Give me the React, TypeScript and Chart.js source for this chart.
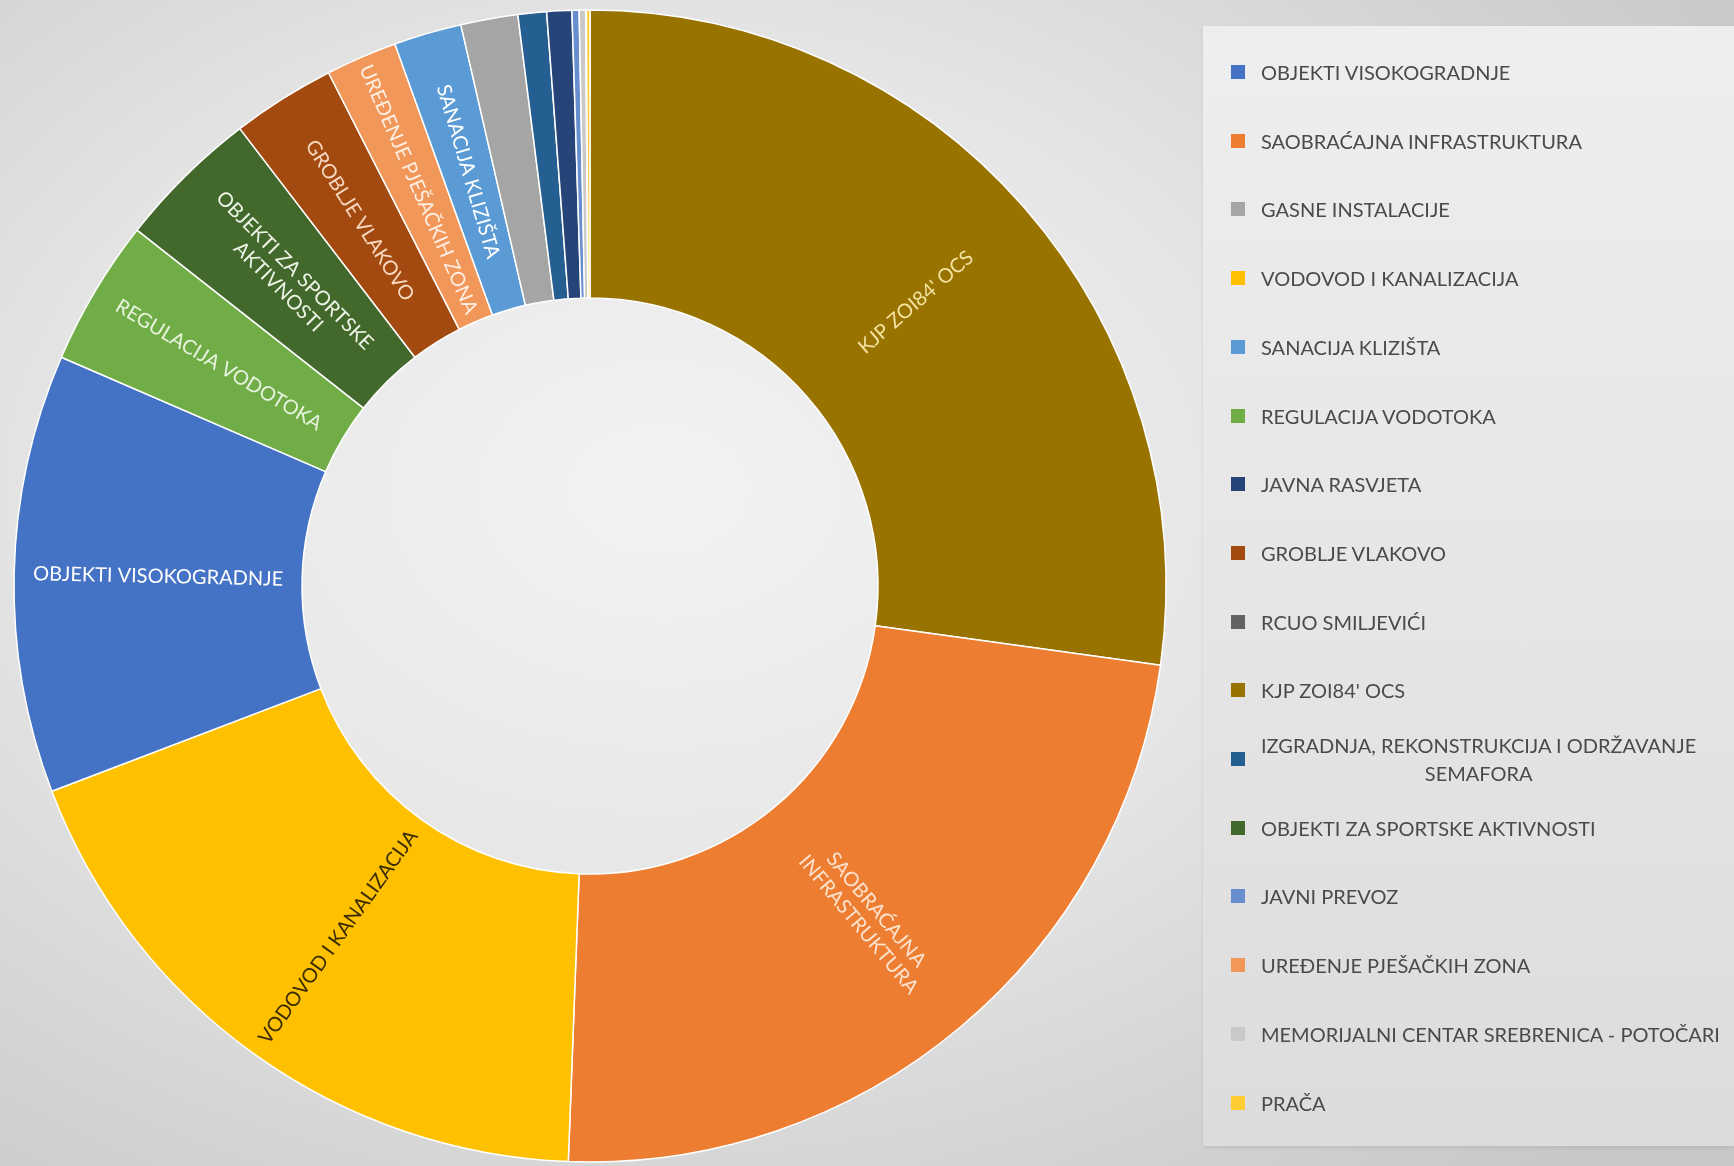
import React, { useEffect, useRef } from "react";
import { Chart, registerables } from "chart.js";

Chart.register(...registerables);

// Slices in the order they are drawn (clockwise from 12 o'clock)
const categories: string[] = [
  "KJP ZOI84' OCS",
  "SAOBRAĆAJNA INFRASTRUKTURA",
  "VODOVOD I KANALIZACIJA",
  "OBJEKTI VISOKOGRADNJE",
  "REGULACIJA VODOTOKA",
  "OBJEKTI ZA SPORTSKE AKTIVNOSTI",
  "GROBLJE VLAKOVO",
  "UREĐENJE PJEŠAČKIH ZONA",
  "SANACIJA KLIZIŠTA",
  "GASNE INSTALACIJE",
  "IZGRADNJA, REKONSTRUKCIJA I ODRŽAVANJE SEMAFORA",
  "JAVNA RASVJETA",
  "JAVNI PREVOZ",
  "MEMORIJALNI CENTAR SREBRENICA - POTOČARI",
  "RCUO SMILJEVIĆI",
  "PRAČA",
];

// Share of each slice (percent)
const shares: number[] = [27.2, 23.4, 18.6, 12.3, 4.1, 4.0, 2.9, 2.0, 1.9, 1.6, 0.8, 0.7, 0.2, 0.18, 0.02, 0.1];

const sliceColors: string[] = [
  "#997300", "#ED7D31", "#FFC000", "#4472C4", "#70AD47", "#43682B", "#A24A0F", "#F1975A",
  "#5B9BD5", "#A5A5A5", "#255E91", "#264478", "#698ED0", "#C9C9C9", "#636363", "#FFCD33",
];

// Text written inside the slices
const sliceLabels: string[][] = [
  ["KJP ZOI84' OCS"],
  ["SAOBRAĆAJNA", "INFRASTRUKTURA"],
  ["VODOVOD I KANALIZACIJA"],
  ["OBJEKTI VISOKOGRADNJE"],
  ["REGULACIJA VODOTOKA"],
  ["OBJEKTI ZA SPORTSKE", "AKTIVNOSTI"],
  ["GROBLJE VLAKOVO"],
  ["UREĐENJE PJEŠAČKIH ZONA"],
  ["SANACIJA KLIZIŠTA"],
  [], [], [], [], [], [], [],
];

const sliceLabelColors: string[] = [
  "#F3E3A0", "#FDE3CF", "#3A2C00", "#FFFFFF", "#E8F3DE", "#EEF5E8", "#F9D9C2", "#FFEFE3",
  "#FFFFFF", "#FFFFFF", "#FFFFFF", "#FFFFFF", "#FFFFFF", "#FFFFFF", "#FFFFFF", "#FFFFFF",
];

// Legend order (as in the source table)
const legendCategories: string[] = [
  "OBJEKTI VISOKOGRADNJE",
  "SAOBRAĆAJNA INFRASTRUKTURA",
  "GASNE INSTALACIJE",
  "VODOVOD I KANALIZACIJA",
  "SANACIJA KLIZIŠTA",
  "REGULACIJA VODOTOKA",
  "JAVNA RASVJETA",
  "GROBLJE VLAKOVO",
  "RCUO SMILJEVIĆI",
  "KJP ZOI84' OCS",
  "IZGRADNJA, REKONSTRUKCIJA I ODRŽAVANJE SEMAFORA",
  "OBJEKTI ZA SPORTSKE AKTIVNOSTI",
  "JAVNI PREVOZ",
  "UREĐENJE PJEŠAČKIH ZONA",
  "MEMORIJALNI CENTAR SREBRENICA - POTOČARI",
  "PRAČA",
];

// Legend entries that wrap onto two lines
const legendWrapped: Record<string, string[]> = {
  "IZGRADNJA, REKONSTRUKCIJA I ODRŽAVANJE SEMAFORA": ["IZGRADNJA, REKONSTRUKCIJA I ODRŽAVANJE", "SEMAFORA"],
};

const FONT = "Lato, 'Open Sans', sans-serif";

const sliceLabelPlugin = {
  id: "sliceLabelPlugin",
  afterDatasetsDraw(chart: any) {
    const ctx = chart.ctx;
    const meta = chart.getDatasetMeta(0);
    meta.data.forEach((arc: any, i: number) => {
      const lines = sliceLabels[i];
      if (!lines || lines.length === 0) return;
      const p = arc.getProps(["x", "y", "startAngle", "endAngle", "innerRadius", "outerRadius"], true);
      const mid = (p.startAngle + p.endAngle) / 2;
      const r = (p.innerRadius + p.outerRadius) / 2;
      const px = p.x + Math.cos(mid) * r;
      const py = p.y + Math.sin(mid) * r;
      let rot = mid;
      while (rot > Math.PI / 2) rot -= Math.PI;
      while (rot <= -Math.PI / 2) rot += Math.PI;
      ctx.save();
      ctx.translate(px, py);
      ctx.rotate(rot);
      ctx.font = `20px ${FONT}`;
      ctx.fillStyle = sliceLabelColors[i];
      ctx.textAlign = "center";
      ctx.textBaseline = "middle";
      const lh = 23;
      lines.forEach((ln, k) => {
        ctx.fillText(ln, 0, (k - (lines.length - 1) / 2) * lh);
      });
      ctx.restore();
    });
  },
};

export default function App() {
  const canvasRef = useRef<HTMLCanvasElement | null>(null);

  useEffect(() => {
    if (!canvasRef.current) return;
    const chart = new Chart(canvasRef.current, {
      type: "doughnut",
      data: {
        labels: categories,
        datasets: [
          {
            data: shares,
            backgroundColor: sliceColors,
            borderColor: "#FFFFFF",
            borderWidth: 1.5,
          },
        ],
      },
      options: {
        responsive: true,
        maintainAspectRatio: false,
        animation: false,
        radius: 576,
        cutout: "50%",
        rotation: 0,
        layout: { padding: { top: 6, left: 0, right: 0, bottom: 0 } },
        plugins: {
          legend: { display: false },
          tooltip: { enabled: false },
        },
      } as any,
      plugins: [sliceLabelPlugin],
    });
    return () => chart.destroy();
  }, []);

  const rowTop0 = 72;
  const rowStep = 68.7;

  return (
    <div
      style={{
        position: "fixed",
        left: 0,
        top: 0,
        width: 1734,
        height: 1166,
        overflow: "hidden",
        background:
          "radial-gradient(ellipse 75% 80% at 38% 42%, #f3f3f3 0%, #e6e6e6 45%, #d2d2d2 80%, #c8c8c8 100%)",
        fontFamily: FONT,
      }}
    >
      <div
        style={{
          position: "absolute",
          left: 1203,
          top: 26,
          width: 531,
          height: 1120,
          background: "linear-gradient(to bottom, #eeeeee 0%, #e6e6e6 50%, #dcdcdc 100%)",
          boxShadow: "0 2px 4px rgba(0,0,0,0.08)",
        }}
      />
      {legendCategories.map((name, i) => {
        const idx = categories.indexOf(name);
        const color = sliceColors[idx];
        const lines = legendWrapped[name] || [name];
        return (
          <div
            key={name}
            style={{
              position: "absolute",
              left: 1231,
              top: rowTop0 + i * rowStep,
              transform: "translateY(-50%)",
              display: "flex",
              alignItems: "center",
            }}
          >
            <div style={{ width: 14, height: 14, background: color, flex: "0 0 auto" }} />
            <div
              style={{
                marginLeft: 16,
                display: "flex",
                flexDirection: "column",
                alignItems: "center",
                fontSize: 20,
                lineHeight: "28px",
                color: "#4a4a4a",
                whiteSpace: "nowrap",
              }}
            >
              {lines.map((ln) => (
                <span key={ln}>{ln}</span>
              ))}
            </div>
          </div>
        );
      })}
      <div style={{ position: "absolute", left: 0, top: 0, width: 1180, height: 1166 }}>
        <canvas ref={canvasRef} />
      </div>
    </div>
  );
}
